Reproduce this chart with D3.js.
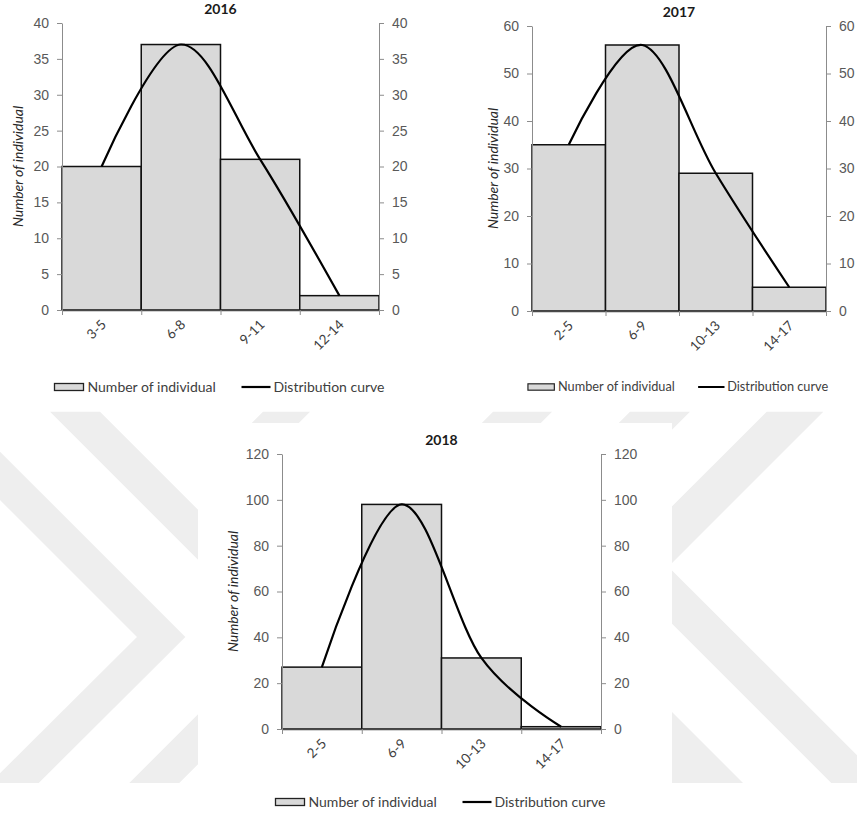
<!DOCTYPE html>
<html><head><meta charset="utf-8">
<script src="https://cdn.jsdelivr.net/npm/d3@7"></script>
<style>
html,body{margin:0;padding:0;background:#fff;}
svg{display:block;font-family:Lato,"Open Sans",sans-serif;}
</style></head><body>
<svg id="c" width="857" height="816"></svg>
<script>
// ---------- data ----------
const years = ["2016", "2017", "2018"];
const categories2016 = ["3-5", "6-8", "9-11", "12-14"];
const individuals2016 = [20, 37, 21, 2];
const curve2016 = [20, 37, 21, 2];
const categories2017 = ["2-5", "6-9", "10-13", "14-17"];
const individuals2017 = [35, 56, 29, 5];
const curve2017 = [35, 56, 29, 5];
const categories2018 = ["2-5", "6-9", "10-13", "14-17"];
const individuals2018 = [27, 98, 31, 1];
const curve2018 = [27, 98, 31, 1];
const yMaxes = [40, 60, 120];
const yTickSteps = [5, 10, 20];
const legendLabels = ["Number of individual", "Distribution curve"];
const yAxisTitle = "Number of individual";

// ---------- layout ----------
const panels = [
  {left: 62, right: 379, top: 23, bottom: 310, titleY: 13.5, axisTitleX: 18, legendY: 387, legendScale: 1},
  {left: 532, right: 826, top: 26, bottom: 311, titleY: 16.5, axisTitleX: 493, legendY: 387, legendScale: 0.91},
  {left: 282, right: 601, top: 454, bottom: 729, titleY: 445, axisTitleX: 233, legendY: 802, legendScale: 1}
];
const datasets = [
  {cats: categories2016, vals: individuals2016, curve: curve2016},
  {cats: categories2017, vals: individuals2017, curve: curve2017},
  {cats: categories2018, vals: individuals2018, curve: curve2018}
];

const svg = d3.select("#c");
svg.append("rect").attr("width", 857).attr("height", 816).attr("fill", "#fff");

// ---------- background watermark ----------
const wmColor = "#eeeeee";
const watermark = [
  [[0,451.7],[185.3,637],[38.7,783],[0,783],[0,773.3],[137,637],[0,500]],
  [[50,411.7],[100,411.7],[325.3,637],[179.3,783],[129.3,783],[275.3,637]],
  [[766.7,411.7],[823.3,411.7],[668.3,566.7],[884.7,783],[831.3,783],[613.3,565]],
  [[630,411.7],[690,411.7],[530.8,570.8],[743,783],[671.3,783],[465,576.7]],
  [[263,411.7],[310,411.7],[290,431.7],[243,431.7]],
  [[493,411.7],[552,411.7],[532,431.7],[473,431.7]]
];
svg.append("g").selectAll("polygon").data(watermark).join("polygon")
  .attr("points", d => d.map(p => p.join(",")).join(" "))
  .attr("fill", wmColor);
svg.append("rect").attr("x", 198).attr("y", 423).attr("width", 474).attr("height", 393).attr("fill", "#fff");

// ---------- charts ----------
panels.forEach((p, i) => {
  const ds = datasets[i];
  const g = svg.append("g");
  const x = d3.scaleBand().domain(ds.cats).range([p.left, p.right]).padding(0);
  const xLin = d3.scaleLinear().domain([0, ds.cats.length]).range([p.left, p.right]);
  const y = d3.scaleLinear().domain([0, yMaxes[i]]).range([p.bottom, p.top]);
  const ticks = d3.range(0, yMaxes[i] + 0.001, yTickSteps[i]);

  // bars
  g.selectAll("rect.bar").data(ds.vals).join("rect")
    .attr("class", "bar")
    .attr("x", (d, j) => x(ds.cats[j]))
    .attr("y", d => y(d))
    .attr("width", x.bandwidth())
    .attr("height", d => y(0) - y(d))
    .attr("fill", "#d9d9d9")
    .attr("stroke", "#111")
    .attr("stroke-width", 1.5);

  // left axis
  const ax = g.append("g").attr("transform", `translate(${p.left},0)`)
    .call(d3.axisLeft(y).tickValues(ticks).tickSize(5).tickSizeOuter(0).tickPadding(8));
  // right axis
  const ar = g.append("g").attr("transform", `translate(${p.right},0)`)
    .call(d3.axisRight(y).tickValues(ticks).tickSize(5).tickSizeOuter(0).tickPadding(8));
  [ax, ar].forEach(a => {
    a.select(".domain").attr("stroke", "#8c8c8c").attr("stroke-width", 1);
    a.selectAll(".tick line").attr("stroke", "#8c8c8c");
    a.selectAll(".tick text").attr("fill", "#595959").style("font-size", "14px");
  });
  // bottom axis
  const ab = g.append("g").attr("transform", `translate(0,${p.bottom})`)
    .call(d3.axisBottom(xLin).tickValues(d3.range(0, ds.cats.length + 1)).tickSize(5).tickSizeOuter(0).tickFormat(""));
  ab.select(".domain").attr("stroke", "#4a4a4a").attr("stroke-width", 1.6);
  ab.selectAll(".tick line").attr("stroke", "#8c8c8c");

  // category labels
  g.selectAll("text.cat").data(ds.cats).join("text")
    .attr("class", "cat")
    .attr("transform", d => `translate(${x(d) + x.bandwidth() / 2 + 2},${p.bottom + 12}) rotate(-45)`)
    .attr("text-anchor", "end")
    .attr("dy", "0.35em")
    .attr("fill", "#404040")
    .style("font-size", "13.5px")
    .text(d => d);

  // distribution curve
  const line = d3.line()
    .x((d, j) => x(ds.cats[j]) + x.bandwidth() / 2)
    .y(d => y(d))
    .curve(d3.curveCardinal.tension(0));
  g.append("path").attr("d", line(ds.curve))
    .attr("fill", "none").attr("stroke", "#000").attr("stroke-width", 2.2);

  // title
  const cx = (p.left + p.right) / 2;
  g.append("text").attr("x", cx).attr("y", p.titleY)
    .attr("text-anchor", "middle").attr("font-weight", "bold")
    .attr("fill", "#1a1a1a").style("font-size", "14px").text(years[i]);

  // y axis title
  g.append("text")
    .attr("transform", `translate(${p.axisTitleX},${(p.top + p.bottom) / 2}) rotate(-90)`)
    .attr("text-anchor", "middle").attr("dy", "0.35em")
    .attr("font-style", "italic").attr("fill", "#262626")
    .style("font-size", "14px").text(yAxisTitle);

  // legend
  const lg = g.append("g").attr("transform", `translate(${cx},${p.legendY}) scale(${p.legendScale})`);
  lg.append("rect").attr("x", -166).attr("y", -3.5).attr("width", 29).attr("height", 7)
    .attr("fill", "#d9d9d9").attr("stroke", "#222").attr("stroke-width", 1.3);
  lg.append("text").attr("x", -133).attr("dy", "0.35em").attr("fill", "#404040")
    .style("font-size", "14px").text(legendLabels[0]);
  lg.append("line").attr("x1", 21).attr("x2", 50).attr("y1", 0).attr("y2", 0)
    .attr("stroke", "#000").attr("stroke-width", 2.2);
  lg.append("text").attr("x", 53).attr("dy", "0.35em").attr("fill", "#404040")
    .style("font-size", "14px").text(legendLabels[1]);
});
</script>
</body></html>
